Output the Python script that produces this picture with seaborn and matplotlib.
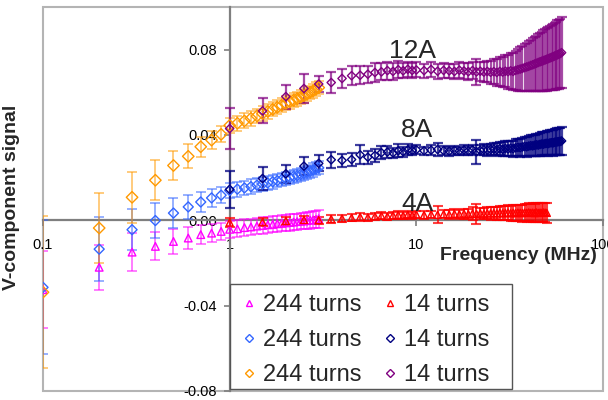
import numpy as np
import pandas as pd
import matplotlib
matplotlib.use("Agg")
import matplotlib.pyplot as plt
import seaborn as sns
from matplotlib.lines import Line2D
from matplotlib.patches import Rectangle

# frequencies (MHz)
freq_244 = [0.1, 0.2, 0.3, 0.4, 0.5, 0.6, 0.7, 0.8, 0.9,
            1.0, 1.1, 1.2, 1.3, 1.4, 1.5, 1.6, 1.7, 1.8, 1.9, 2.0,
            2.1, 2.2, 2.3, 2.4, 2.5, 2.6, 2.7, 2.8, 2.9, 3.0]
freq_14 = [1.0, 1.5, 2.0, 2.5, 3.0, 3.5, 4.0, 4.5, 5.0, 5.5, 6.0, 6.5, 7.0, 7.5,
           8.0, 8.5, 9.0, 9.5, 10, 11, 12, 13, 14, 15, 16, 17, 18, 19, 20,
           21, 22, 23, 24, 25, 26, 27, 28, 29, 30, 31, 32, 33, 34, 35, 36, 37,
           38, 39, 40, 41, 42, 43, 44, 45, 46, 47, 48, 49, 50, 51, 52, 53, 54,
           55, 56, 57, 58, 59, 60]
freq_14_4A = freq_14[:59]  # red series stops at 50 MHz

# 244 turns, 4A (magenta)
v_244_4A = [-0.0325, -0.0220, -0.0149, -0.0122, -0.0099, -0.0083, -0.0067, -0.0060, -0.0052,
            -0.0042, -0.0040, -0.0034, -0.0031, -0.0027, -0.0024, -0.0021, -0.0019, -0.0016, -0.0014,
            -0.0012, -0.0010, -0.0008, -0.0006, -0.0004, -0.0003, -0.0001, 0.0001, 0.0002, 0.0004, 0.0008]
e_244_4A = [0.0180, 0.0105, 0.0090, 0.0066, 0.0060, 0.0052, 0.0046, 0.0042, 0.0040,
            0.0040, 0.0040, 0.0039, 0.0039, 0.0038, 0.0038, 0.0038, 0.0038, 0.0038, 0.0038,
            0.0038, 0.0038, 0.0038, 0.0038, 0.0038, 0.0039, 0.0039, 0.0040, 0.0040, 0.0041, 0.0042]

# 244 turns, 8A (light blue)
v_244_8A = [-0.0314, -0.0135, -0.0044, -0.0001, 0.0034, 0.0063, 0.0086, 0.0105, 0.0118,
            0.0140, 0.0146, 0.0152, 0.0158, 0.0165, 0.0170, 0.0175, 0.0181, 0.0186, 0.0191,
            0.0196, 0.0201, 0.0206, 0.0210, 0.0215, 0.0220, 0.0225, 0.0230, 0.0236, 0.0242, 0.0246]
e_244_8A = [0.0314, 0.0150, 0.0095, 0.0082, 0.0069, 0.0056, 0.0047, 0.0042, 0.0038,
            0.0036, 0.0035, 0.0034, 0.0034, 0.0033, 0.0033, 0.0033, 0.0032, 0.0032, 0.0032,
            0.0032, 0.0032, 0.0031, 0.0031, 0.0031, 0.0031, 0.0031, 0.0031, 0.0031, 0.0030, 0.0030]

# 244 turns, 12A (orange)
v_244_12A = [-0.0337, -0.0036, 0.0108, 0.0188, 0.0257, 0.0300, 0.0345, 0.0376, 0.0403,
             0.0445, 0.0455, 0.0466, 0.0478, 0.0489, 0.0500, 0.0510, 0.0520, 0.0530, 0.0539,
             0.0548, 0.0556, 0.0563, 0.0570, 0.0577, 0.0584, 0.0592, 0.0600, 0.0607, 0.0615, 0.0622]
e_244_12A = [0.0357, 0.0165, 0.0120, 0.0093, 0.0070, 0.0057, 0.0047, 0.0042, 0.0038,
             0.0036, 0.0035, 0.0035, 0.0034, 0.0034, 0.0034, 0.0033, 0.0033, 0.0033, 0.0033,
             0.0033, 0.0033, 0.0032, 0.0032, 0.0032, 0.0032, 0.0032, 0.0032, 0.0032, 0.0032, 0.0032]

# 14 turns, 4A (red)
v_14_4A = [-0.0010, -0.0008, -0.0003, 0.0002, 0.0001, 0.0006, 0.0009, 0.0012, 0.0016, 0.0014,
           0.0019, 0.0021, 0.0018, 0.0023, 0.0025, 0.0022, 0.0026, 0.0024, 0.0027, 0.0025,
           0.0028, 0.0026, 0.0029, 0.0027, 0.0030, 0.0028, 0.0031, 0.0029, 0.0032, 0.0030,
           0.0033, 0.0031, 0.0033, 0.0032, 0.0034, 0.0032, 0.0035, 0.0033, 0.0034, 0.0036,
           0.0033, 0.0035, 0.0034, 0.0036, 0.0035, 0.0034, 0.0036, 0.0035, 0.0037, 0.0035,
           0.0036, 0.0034, 0.0037, 0.0035, 0.0036, 0.0035, 0.0037, 0.0036, 0.0035]
e_14_4A = [0.0020, 0.0018, 0.0018, 0.0017, 0.0016, 0.0017, 0.0016, 0.0016, 0.0017, 0.0016,
           0.0016, 0.0017, 0.0016, 0.0017, 0.0017, 0.0016, 0.0017, 0.0016, 0.0018, 0.0017,
           0.0018, 0.0040, 0.0019, 0.0020, 0.0021, 0.0022, 0.0023, 0.0024, 0.0030, 0.0045,
           0.0026, 0.0027, 0.0028, 0.0029, 0.0030, 0.0031, 0.0032, 0.0033, 0.0034, 0.0035,
           0.0036, 0.0037, 0.0037, 0.0038, 0.0039, 0.0040, 0.0040, 0.0041, 0.0042, 0.0042,
           0.0043, 0.0043, 0.0044, 0.0044, 0.0045, 0.0045, 0.0046, 0.0046, 0.0047]

# 14 turns, 8A (navy)
v_14_8A = [0.0145, 0.0196, 0.0218, 0.0254, 0.0267, 0.0284, 0.0281, 0.0285, 0.0307, 0.0296,
           0.0304, 0.0317, 0.0320, 0.0316, 0.0326, 0.0322, 0.0330, 0.0327, 0.0331, 0.0326,
           0.0329, 0.0332, 0.0327, 0.0324, 0.0328, 0.0325, 0.0329, 0.0326, 0.0330, 0.0322,
           0.0328, 0.0331, 0.0329, 0.0332, 0.0334, 0.0331, 0.0336, 0.0333, 0.0337, 0.0335,
           0.0338, 0.0336, 0.0340, 0.0342, 0.0341, 0.0344, 0.0346, 0.0345, 0.0348, 0.0350,
           0.0349, 0.0352, 0.0354, 0.0353, 0.0356, 0.0358, 0.0357, 0.0360, 0.0361, 0.0360,
           0.0363, 0.0364, 0.0363, 0.0366, 0.0367, 0.0368, 0.0369, 0.0370, 0.0372]
e_14_8A = [0.0085, 0.0052, 0.0042, 0.0042, 0.0038, 0.0038, 0.0030, 0.0032, 0.0045, 0.0030,
           0.0032, 0.0030, 0.0028, 0.0025, 0.0030, 0.0024, 0.0026, 0.0022, 0.0022, 0.0020,
           0.0022, 0.0030, 0.0020, 0.0021, 0.0020, 0.0021, 0.0022, 0.0021, 0.0023, 0.0056,
           0.0024, 0.0025, 0.0026, 0.0027, 0.0028, 0.0030, 0.0031, 0.0032, 0.0034, 0.0035,
           0.0036, 0.0038, 0.0039, 0.0040, 0.0042, 0.0043, 0.0044, 0.0046, 0.0047, 0.0048,
           0.0049, 0.0050, 0.0051, 0.0052, 0.0053, 0.0054, 0.0055, 0.0056, 0.0057, 0.0058,
           0.0059, 0.0060, 0.0061, 0.0062, 0.0062, 0.0063, 0.0064, 0.0064, 0.0065]

# 14 turns, 12A (purple)
v_14_12A = [0.0430, 0.0513, 0.0580, 0.0618, 0.0639, 0.0646, 0.0665, 0.0678, 0.0680, 0.0685,
            0.0693, 0.0696, 0.0702, 0.0698, 0.0706, 0.0701, 0.0708, 0.0703, 0.0705, 0.0702,
            0.0707, 0.0699, 0.0703, 0.0701, 0.0698, 0.0704, 0.0700, 0.0697, 0.0702, 0.0696,
            0.0699, 0.0695, 0.0698, 0.0694, 0.0697, 0.0693, 0.0698, 0.0695, 0.0699, 0.0697,
            0.0701, 0.0698, 0.0703, 0.0706, 0.0709, 0.0712, 0.0716, 0.0719, 0.0722, 0.0726,
            0.0729, 0.0733, 0.0736, 0.0740, 0.0743, 0.0746, 0.0749, 0.0752, 0.0755, 0.0758,
            0.0761, 0.0764, 0.0767, 0.0770, 0.0773, 0.0776, 0.0779, 0.0782, 0.0786]
e_14_12A = [0.0095, 0.0059, 0.0056, 0.0066, 0.0038, 0.0047, 0.0045, 0.0045, 0.0042, 0.0040,
            0.0045, 0.0040, 0.0042, 0.0038, 0.0040, 0.0035, 0.0036, 0.0034, 0.0035, 0.0033,
            0.0034, 0.0036, 0.0035, 0.0034, 0.0037, 0.0038, 0.0036, 0.0040, 0.0041, 0.0060,
            0.0044, 0.0046, 0.0050, 0.0054, 0.0058, 0.0062, 0.0066, 0.0070, 0.0075, 0.0080,
            0.0084, 0.0088, 0.0093, 0.0098, 0.0102, 0.0106, 0.0110, 0.0114, 0.0118, 0.0121,
            0.0124, 0.0127, 0.0130, 0.0133, 0.0136, 0.0139, 0.0142, 0.0145, 0.0147, 0.0149,
            0.0151, 0.0153, 0.0155, 0.0157, 0.0159, 0.0161, 0.0162, 0.0164, 0.0165]

series = [
    # label, x, y, err, marker, color, bar alpha, bar width, marker size
    ("244 turns", freq_244, v_244_4A, e_244_4A, "^", "#FF00FF", 0.55, 1.3, 30),
    ("244 turns", freq_244, v_244_8A, e_244_8A, "D", "#3366FF", 0.55, 1.3, 26),
    ("244 turns", freq_244, v_244_12A, e_244_12A, "D", "#FF9900", 0.55, 1.3, 34),
    ("14 turns", freq_14_4A, v_14_4A, e_14_4A, "^", "#FF0000", 0.75, 1.5, 26),
    ("14 turns", freq_14, v_14_8A, e_14_8A, "D", "#000080", 0.75, 1.6, 18),
    ("14 turns", freq_14, v_14_12A, e_14_12A, "D", "#800080", 0.7, 1.6, 18),
]

sns.set_style("white")
plt.rcParams["font.family"] = ["Liberation Sans", "DejaVu Sans"]
plt.rcParams["axes.unicode_minus"] = False

fig, ax = plt.subplots(figsize=(6.08, 4), dpi=100)
ax.set_position([43 / 608, 9 / 400, 560 / 608, 384 / 400])

for label, x, y, e, m, c, a, lw, s in series:
    ax.errorbar(x, y, yerr=e, fmt="none", ecolor=c, elinewidth=lw,
                capsize=3.5, capthick=lw, alpha=a, zorder=2)
    df = pd.DataFrame({"f": x, "v": y})
    sns.scatterplot(data=df, x="f", y="v", ax=ax, marker=m, s=s,
                    facecolors="none", edgecolors=c, linewidth=1.0,
                    legend=False, zorder=3)

ax.set_xscale("log")
ax.set_xlim(0.1, 100)
ax.set_ylim(-0.08, 0.1)

# axes crossing at (1, 0)
ax.spines["left"].set_position(("data", 1))
ax.spines["bottom"].set_position(("data", 0))
for sp in ["left", "bottom"]:
    ax.spines[sp].set_color("#7f7f7f")
    ax.spines[sp].set_linewidth(1.6)
    ax.spines[sp].set_zorder(1)
for sp in ["top", "right"]:
    ax.spines[sp].set_visible(False)
ax.add_patch(Rectangle((0, 0), 1, 1, transform=ax.transAxes, fill=False,
                       edgecolor="#b4b4b4", linewidth=1.5, clip_on=False, zorder=0))

ax.set_xticks([0.1, 1, 10, 100])
ax.set_xticklabels(["0.1", "1", "10", "100"])
ax.xaxis.set_minor_locator(matplotlib.ticker.NullLocator())
ax.set_yticks([-0.08, -0.04, 0.0, 0.04, 0.08])
ax.set_yticklabels(["-0.08", "-0.04", "0.00", "0.04", "0.08"])
ax.tick_params(axis="both", direction="out", length=4, width=1.2, color="#7f7f7f",
               labelsize=10.5, labelcolor="black")
ax.tick_params(axis="x", pad=9, bottom=True)
ax.tick_params(axis="y", pad=5, left=True)
ax.set_xlabel("")
ax.set_ylabel("V-component signal", fontsize=14, fontweight="bold")
ax.yaxis.set_label_coords(-0.041, 0.505)
ax.text(0.989, 0.353, "Frequency (MHz)", transform=ax.transAxes, ha="right",
        va="center", fontsize=14, fontweight="bold")

ax.text(9.5, 0.0795, "12A", fontsize=19, ha="center", va="center")
ax.text(10.1, 0.0424, "8A", fontsize=19, ha="center", va="center")
ax.text(10.1, 0.0075, "4A", fontsize=19, ha="center", va="center")

# legend box drawn separately so it can be wider than the entries
ax.add_patch(Rectangle((0.334, 0.005), 0.5036, 0.273, transform=ax.transAxes,
                       facecolor="white", edgecolor="#555555", linewidth=1.0,
                       clip_on=False, zorder=4))
handles = [Line2D([], [], linestyle="", marker=m, markersize=4, markerfacecolor="none",
                  markeredgecolor=c, markeredgewidth=1.0)
           for _, _, _, _, m, c, _, _, _ in series]
labels = [s[0] for s in series]
leg = ax.legend(handles, labels, ncol=2, loc="lower left", bbox_to_anchor=(0.334, -0.006),
                fontsize=17, handlelength=1.0, handletextpad=0.1, columnspacing=0.7,
                labelspacing=0.55, borderpad=0.3, frameon=False, borderaxespad=0)
leg.set_zorder(5)

fig.savefig("out.png", dpi=100)
